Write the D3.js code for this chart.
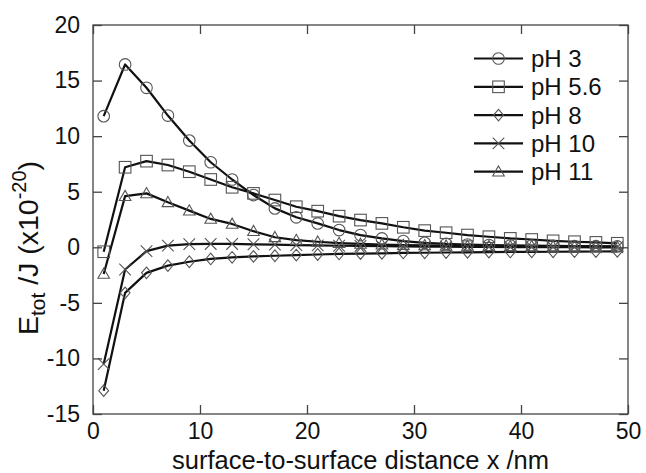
<!DOCTYPE html>
<html><head><meta charset="utf-8">
<script src="https://cdn.jsdelivr.net/npm/d3@7"></script>
<style>
html,body{margin:0;padding:0;background:#fff;}
svg text{font-family:"Liberation Sans",Arial,sans-serif;fill:#111;}
</style></head>
<body><svg id="chart" width="646" height="473"></svg>
<script>
const distance = [1,3,5,7,9,11,13,15,17,19,21,23,25,27,29,31,33,35,37,39,41,43,45,47,49];
const pH3  = [11.8,16.45,14.35,11.85,9.6,7.65,6.1,4.7,3.5,2.7,2.15,1.55,1.1,0.8,0.56,0.4,0.3,0.25,0.2,0.17,0.15,0.12,0.1,0.1,0.08];
const pH56 = [-0.4,7.2,7.75,7.4,6.8,6.1,5.4,4.85,4.25,3.65,3.25,2.8,2.45,2.15,1.8,1.5,1.31,1.1,0.95,0.8,0.7,0.58,0.5,0.44,0.36];
const pH8  = [-12.9,-4.1,-2.3,-1.65,-1.3,-1.05,-0.9,-0.82,-0.76,-0.7,-0.65,-0.6,-0.57,-0.54,-0.51,-0.49,-0.47,-0.45,-0.43,-0.42,-0.41,-0.4,-0.39,-0.38,-0.37];
const pH10 = [-10.5,-2.0,-0.35,0.15,0.28,0.3,0.3,0.27,0.24,0.2,0.17,0.14,0.12,0.1,0.08,0.06,0.05,0.04,0.03,0.02,0.02,0.01,0.01,0.0,0.0];
const pH11 = [-2.4,4.6,4.85,4.05,3.3,2.55,2.1,1.45,0.9,0.65,0.5,0.38,0.3,0.24,0.2,0.17,0.14,0.12,0.1,0.09,0.08,0.07,0.06,0.05,0.05];
const seriesNames = ["pH 3","pH 5.6","pH 8","pH 10","pH 11"];
const seriesMarkers = ["circle","square","diamond","cross","triangle"];
const xTicks = [0,10,20,30,40,50];
const yTicks = [-15,-10,-5,0,5,10,15,20];

const seriesValues = [pH3,pH56,pH8,pH10,pH11];
const svg = d3.select("#chart");
const L=93, R=628, T=25, B=414;
const x = d3.scaleLinear().domain([0,50]).range([L,R]);
const y = d3.scaleLinear().domain([-15,20]).range([B,T]);
const axisColor="#444";

const line = d3.line().x((d,i)=>x(distance[i])).y(d=>y(d));
const markerColor="#555";
function drawMarker(g, type, cx, cy){
  const s=5.8;
  if(type==="circle") g.append("circle").attr("cx",cx).attr("cy",cy).attr("r",s).attr("fill","none").attr("stroke",markerColor).attr("stroke-width",1.1);
  else if(type==="square") g.append("rect").attr("x",cx-s).attr("y",cy-s).attr("width",2*s).attr("height",2*s).attr("fill","none").attr("stroke",markerColor).attr("stroke-width",1.1);
  else if(type==="diamond") g.append("path").attr("d",`M${cx},${cy-s}L${cx+s*0.85},${cy}L${cx},${cy+s}L${cx-s*0.85},${cy}Z`).attr("fill","none").attr("stroke",markerColor).attr("stroke-width",1.1);
  else if(type==="cross") g.append("path").attr("d",`M${cx-s},${cy-s}L${cx+s},${cy+s}M${cx-s},${cy+s}L${cx+s},${cy-s}`).attr("fill","none").attr("stroke",markerColor).attr("stroke-width",1.1);
  else if(type==="triangle") g.append("path").attr("d",`M${cx},${cy-s}L${cx+s},${cy+s*0.75}L${cx-s},${cy+s*0.75}Z`).attr("fill","none").attr("stroke",markerColor).attr("stroke-width",1.1);
}
const plot = svg.append("g");
seriesValues.forEach((vals,k)=>{
  plot.append("path").attr("d",line(vals)).attr("fill","none").attr("stroke","#111").attr("stroke-width",2.2).attr("stroke-linejoin","round");
});
seriesValues.forEach((vals,k)=>{
  const g=plot.append("g");
  vals.forEach((v,i)=>drawMarker(g,seriesMarkers[k],x(distance[i]),y(v)));
});

svg.append("rect").attr("x",L).attr("y",T).attr("width",R-L).attr("height",B-T).attr("fill","none").attr("stroke",axisColor).attr("stroke-width",1.3);
const tl=9;
const xAxisB = d3.axisBottom(x).tickValues(xTicks).tickSize(-tl).tickPadding(9).tickFormat(d3.format("d"));
const xAxisT = d3.axisTop(x).tickValues(xTicks).tickSize(-tl).tickFormat("");
const yAxisL = d3.axisLeft(y).tickValues(yTicks).tickSize(-tl).tickPadding(13).tickFormat(d3.format("d"));
const yAxisR = d3.axisRight(y).tickValues(yTicks).tickSize(-tl).tickFormat("");
function style(g){g.select(".domain").remove();g.selectAll(".tick line").attr("stroke",axisColor).attr("stroke-width",1.3);g.selectAll(".tick text").style("font-family","'Liberation Sans',Arial,sans-serif").style("font-size","23px").attr("fill","#111");}
svg.append("g").attr("transform",`translate(0,${B})`).call(xAxisB).call(style);
svg.append("g").attr("transform",`translate(0,${T})`).call(xAxisT).call(style);
svg.append("g").attr("transform",`translate(${L},0)`).call(yAxisL).call(style);
svg.append("g").attr("transform",`translate(${R},0)`).call(yAxisR).call(style);
svg.selectAll(".tick text").text(function(){return this.textContent.replace("−","-");});

svg.append("text").attr("x",(L+R)/2).attr("y",469).attr("text-anchor","middle").style("font-size","25.5px").text("surface-to-surface distance x /nm");
const yt = svg.append("text").attr("transform","translate(38,248) rotate(-90)").attr("text-anchor","middle").style("font-size","28.5px");
yt.append("tspan").text("E");
yt.append("tspan").attr("dy",7).style("font-size","21px").text("tot");
yt.append("tspan").attr("dy",-7).text(" /J (x10");
yt.append("tspan").attr("dy",-12).style("font-size","20px").text("-20");
yt.append("tspan").attr("dy",12).text(")");

const lg = svg.append("g");
seriesNames.forEach((n,k)=>{
  const cy = 58.5 + k*28.3;
  lg.append("line").attr("x1",474).attr("x2",523).attr("y1",cy).attr("y2",cy).attr("stroke","#111").attr("stroke-width",2.2);
  drawMarker(lg,seriesMarkers[k],498.5,cy);
  lg.append("text").attr("x",531).attr("y",cy+8.5).style("font-size","24px").text(n);
});
</script></body></html>
